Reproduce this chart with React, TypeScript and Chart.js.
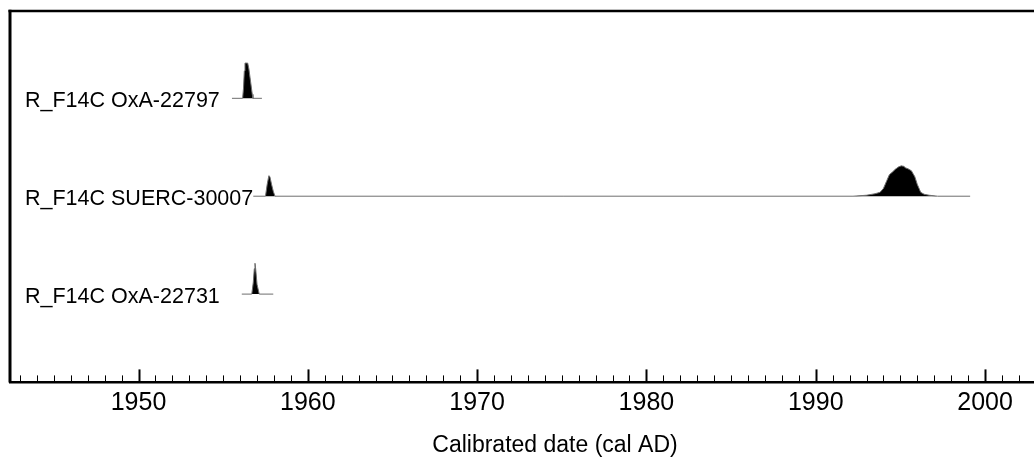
import React, { useEffect, useRef } from "react";
import { Chart, registerables } from "chart.js";

Chart.register(...registerables);

// ---- data ----
const rowLabels = ["R_F14C OxA-22797", "R_F14C SUERC-30007", "R_F14C OxA-22731"];
const rowBases = [3, 2, 1];

const oxa22797Years = [1955.52, 1956.15, 1956.2, 1956.25, 1956.29, 1956.45, 1956.52, 1956.62, 1956.72, 1956.76, 1957.29];
const oxa22797Probs = [0, 0, 0.1, 0.28, 0.36, 0.36, 0.3, 0.17, 0.04, 0, 0];

const suerc30007Years = [
  1956.78, 1957.5, 1957.6, 1957.7, 1957.76, 1957.86, 1957.96, 1958.06,
  1992.2, 1993.0, 1993.5, 1993.8, 1994.0, 1994.2, 1994.35, 1994.55, 1994.7, 1994.9,
  1995.05, 1995.2, 1995.3, 1995.45, 1995.65, 1995.85, 1996.0, 1996.2, 1996.4, 1996.7, 1997.2, 1999.12,
];
const suerc30007Probs = [
  0, 0, 0.12, 0.21, 0.2, 0.12, 0.05, 0,
  0, 0.01, 0.025, 0.04, 0.08, 0.16, 0.22, 0.25, 0.275, 0.3,
  0.31, 0.305, 0.29, 0.28, 0.26, 0.2, 0.12, 0.04, 0.02, 0.01, 0, 0,
];

const oxa22731Years = [1956.1, 1956.69, 1956.78, 1956.84, 1956.88, 1956.92, 1957.0, 1957.13, 1957.96];
const oxa22731Probs = [0, 0, 0.12, 0.26, 0.315, 0.26, 0.1, 0, 0];

const seriesYears = [oxa22797Years, suerc30007Years, oxa22731Years];
const seriesProbs = [oxa22797Probs, suerc30007Probs, oxa22731Probs];

const tickValues = [1950, 1960, 1970, 1980, 1990, 2000];
const minorTickYears = Array.from({ length: 64 }, (_, i) => 1943 + i);

const X_MIN = 1942.41;
const X_MAX = 2006.79;
const Y_MIN = 0.098;
const Y_MAX = 3.892;

const FONT = "'Liberation Sans', Arial, Helvetica, sans-serif";

const decorPlugin = {
  id: "decor",
  afterDraw(chart: any) {
    const ctx = chart.ctx;
    const { left, top, right, bottom } = chart.chartArea;
    const xs = chart.scales.x;
    const ys = chart.scales.y;
    ctx.save();
    // frame: top + left
    ctx.strokeStyle = "#000";
    ctx.lineWidth = 2.5;
    ctx.beginPath();
    ctx.moveTo(left - 1.5, top);
    ctx.lineTo(right, top);
    ctx.stroke();
    ctx.lineWidth = 3;
    ctx.beginPath();
    ctx.moveTo(left, top - 1.2);
    ctx.lineTo(left, bottom);
    ctx.stroke();
    // bottom axis ticks
    minorTickYears.forEach((yr) => {
      const px = Math.round(xs.getPixelForValue(yr)) + 0.5;
      const major = yr % 10 === 0;
      ctx.lineWidth = major ? 2 : 1;
      ctx.beginPath();
      ctx.moveTo(px, bottom);
      ctx.lineTo(px, bottom - (major ? 13 : 7));
      ctx.stroke();
    });
    // row labels
    ctx.fillStyle = "#000";
    ctx.font = `21.5px ${FONT}`;
    ctx.textAlign = "left";
    ctx.textBaseline = "middle";
    rowLabels.forEach((lab, i) => {
      const py = ys.getPixelForValue(rowBases[i]) + 2.5;
      ctx.fillText(lab, 25, py);
    });
    ctx.restore();
  },
};

export default function App() {
  const ref = useRef<HTMLCanvasElement | null>(null);
  useEffect(() => {
    if (!ref.current) return;
    const datasets = seriesYears.map((years, i) => ({
      label: rowLabels[i],
      data: years.map((yr, j) => ({ x: yr, y: rowBases[i] + seriesProbs[i][j] })),
      borderColor: "#6e6e6e",
      borderWidth: 1,
      backgroundColor: "#000",
      fill: { value: rowBases[i] },
      pointRadius: 0,
      tension: 0,
    }));
    const chart = new Chart(ref.current, {
      type: "line",
      data: { datasets },
      options: {
        animation: false,
        responsive: false,
        layout: { padding: { left: 10, top: 11, right: 0, bottom: 0 } },
        plugins: { legend: { display: false }, tooltip: { enabled: false } },
        scales: {
          x: {
            type: "linear",
            min: X_MIN,
            max: X_MAX,
            afterBuildTicks: (scale: any) => {
              scale.ticks = tickValues.map((v) => ({ value: v }));
            },
            grid: { display: false, drawTicks: false },
            border: { display: true, color: "#000", width: 2.5 },
            ticks: {
              autoSkip: false,
              maxRotation: 0,
              padding: 6,
              color: "#000",
              font: { family: FONT, size: 25 },
              callback: (v: any) => String(v),
            },
            title: {
              display: true,
              text: "Calibrated date (cal AD)",
              color: "#000",
              font: { family: FONT, size: 23 },
              padding: { top: 7, bottom: 2 },
            },
          },
          y: {
            type: "linear",
            display: false,
            min: Y_MIN,
            max: Y_MAX,
          },
        },
      },
      plugins: [decorPlugin],
    } as any);
    return () => chart.destroy();
  }, []);
  return (
    <div style={{ position: "fixed", left: 0, top: 0, width: 1034, height: 461, overflow: "hidden", background: "#fff" }}>
      <canvas ref={ref} width={1100} height={461} style={{ display: "block" }} />
    </div>
  );
}
